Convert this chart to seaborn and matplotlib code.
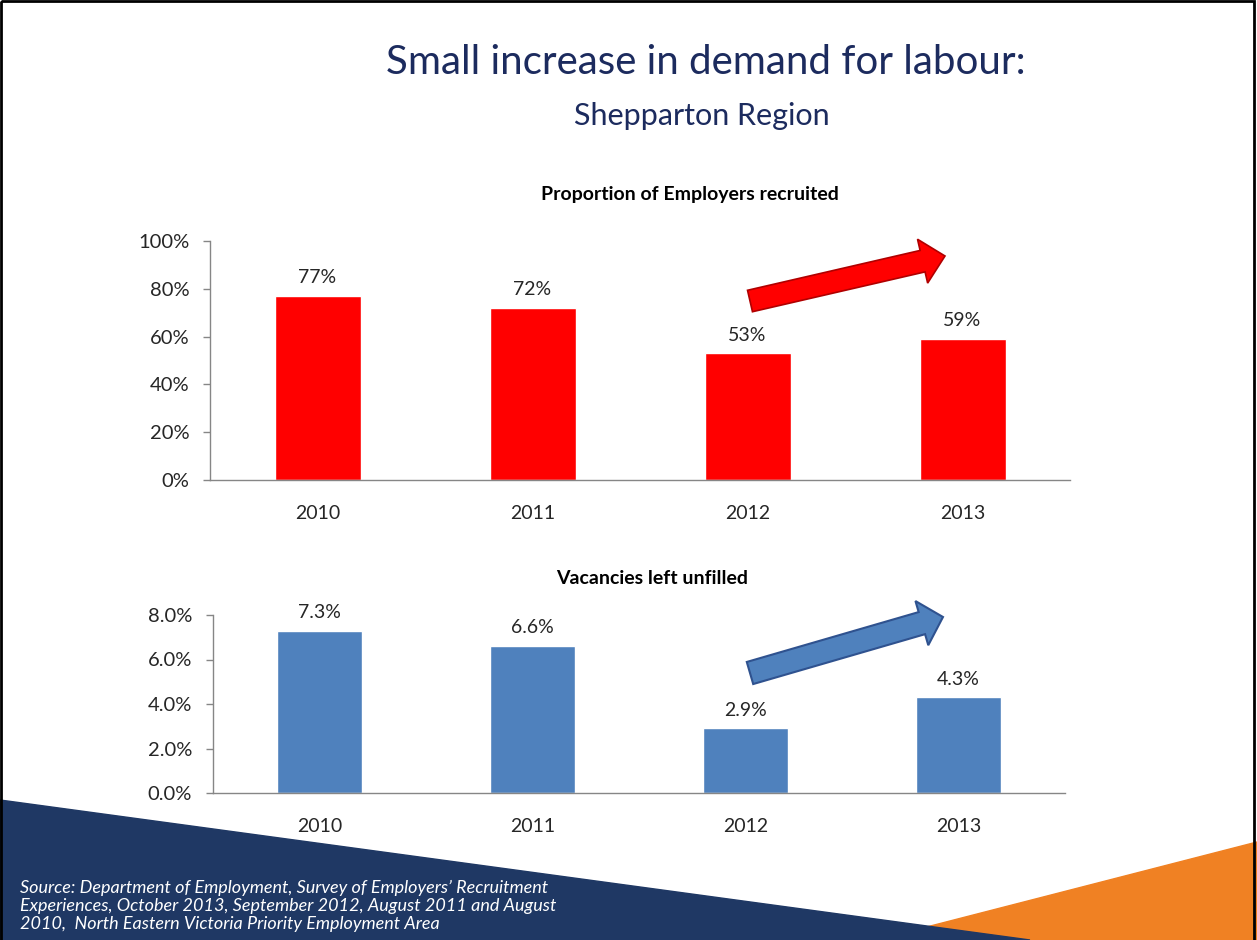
import matplotlib
matplotlib.use("Agg")
import matplotlib.pyplot as plt
import matplotlib.patches as mpatches
import matplotlib.ticker as ticker
import seaborn as sns

sns.set_style("white")
plt.rcParams["font.family"] = ["Lato", "DejaVu Sans"]

years = ["2010", "2011", "2012", "2013"]
recruited = [77, 72, 53, 59]
unfilled = [7.3, 6.6, 2.9, 4.3]

W, H = 1257, 940


def px_rect(l, t, r, b):
    return [l / W, 1 - b / H, (r - l) / W, (b - t) / H]


fig = plt.figure(figsize=(W / 100, H / 100), dpi=100)

# slide background: decorations, frame, arrows
bg = fig.add_axes([0, 0, 1, 1], zorder=0)
bg.set_xlim(0, W)
bg.set_ylim(H, 0)
bg.axis("off")
bg.add_patch(mpatches.Polygon([(876, 940), (1257, 842), (1257, 940)], color="#F08123"))
bg.add_patch(mpatches.Polygon([(0, 800), (1030, 940), (0, 940)], color="#1F3864"))
bg.add_patch(mpatches.Rectangle((1, 1), 1253, 960, fill=False, lw=2, edgecolor="black"))

bg.add_patch(mpatches.FancyArrow(750, 301, 195, -45, width=22, head_width=45, head_length=23,
                                 length_includes_head=True, facecolor="#FF0000",
                                 edgecolor="#B00000", lw=1.2))
bg.add_patch(mpatches.FancyArrow(750, 673, 193, -56, width=23, head_width=46, head_length=22,
                                 length_includes_head=True, facecolor="#4F81BD",
                                 edgecolor="#2F528F", lw=1.5))

fig.text(706 / W, 1 - 62 / H, "Small increase in demand for labour:", ha="center", va="center",
         fontsize=29, color="#1C2B5E")
fig.text(702 / W, 1 - 116 / H, "Shepparton Region", ha="center", va="center",
         fontsize=22, color="#1C2B5E")
fig.text(690 / W, 1 - 195 / H, "Proportion of Employers recruited", ha="center", va="center",
         fontsize=14, fontweight="bold", color="black")
fig.text(652 / W, 1 - 579 / H, "Vacancies left unfilled", ha="center", va="center",
         fontsize=14, fontweight="bold", color="black")
fig.text(20 / W, 1 - 906 / H,
         "Source: Department of Employment, Survey of Employers\u2019 Recruitment\n"
         "Experiences, October 2013, September 2012, August 2011 and August\n"
         "2010,  North Eastern Victoria Priority Employment Area",
         ha="left", va="center", fontsize=13, style="italic", color="white", linespacing=1.15)


def style_axis(ax, ymax, step, fmt):
    ax.set_facecolor("none")
    ax.set_ylim(0, ymax)
    ax.set_xlim(-0.5, 3.5)
    ax.yaxis.set_major_locator(ticker.MultipleLocator(step))
    ax.yaxis.set_major_formatter(ticker.FuncFormatter(fmt))
    ax.xaxis.set_minor_locator(ticker.FixedLocator([-0.5, 0.5, 1.5, 2.5, 3.5]))
    ax.tick_params(axis="x", which="major", length=0, pad=18, labelsize=14)
    ax.tick_params(axis="x", which="minor", length=5, color="#868686", width=1)
    ax.tick_params(axis="y", length=5, color="#868686", width=1, pad=10, labelsize=14.5, left=True)
    for s in ["top", "right"]:
        ax.spines[s].set_visible(False)
    for s in ["left", "bottom"]:
        ax.spines[s].set_color("#868686")
        ax.spines[s].set_linewidth(1)
    ax.set_xlabel("")
    ax.set_ylabel("")


ax1 = fig.add_axes(px_rect(210, 241, 1070, 480), zorder=2)
sns.barplot(x=years, y=recruited, color="#FF0000", saturation=1, width=0.4, ax=ax1)
style_axis(ax1, 100, 20, lambda v, p: f"{v:.0f}%")
ax1.bar_label(ax1.containers[0], labels=[f"{v}%" for v in recruited], padding=7, fontsize=14)

ax2 = fig.add_axes(px_rect(213, 615, 1065, 793), zorder=2)
sns.barplot(x=years, y=unfilled, color="#4F81BD", saturation=1, width=0.4, ax=ax2)
style_axis(ax2, 8, 2, lambda v, p: f"{v:.1f}%")
ax2.bar_label(ax2.containers[0], labels=[f"{v:.1f}%" for v in unfilled], padding=7, fontsize=14)

fig.savefig("out.png", dpi=100)
